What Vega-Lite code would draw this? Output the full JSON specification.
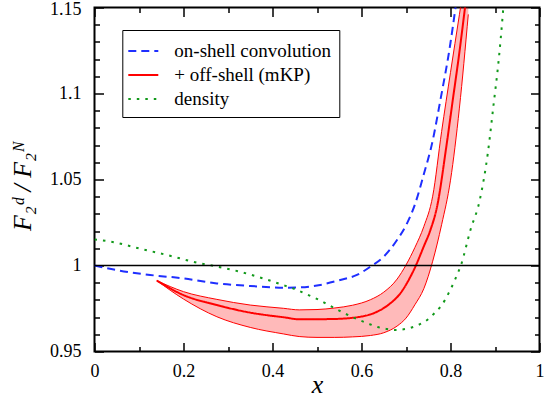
{
  "$schema": "https://vega.github.io/schema/vega-lite/v6.json",
  "width": 445,
  "height": 344,
  "autosize": "none",
  "padding": {"left": 94.5, "top": 7.5, "right": 5.5, "bottom": 47.5},
  "background": "white",
  "config": {
    "view": {"stroke": "black", "strokeWidth": 2},
    "font": "Liberation Serif",
    "axis": {"domain": false, "grid": false, "tickColor": "black", "labelColor": "black", "tickWidth": 1.5, "labelFlush": false, "labelOverlap": false, "labelFont": "Liberation Serif", "titleFont": "Liberation Serif", "titleColor": "black"},
    "legend": {"labelFont": "Liberation Serif"}
  },
  "datasets": {
    "curves": [
      {"s": "on-shell convolution", "x": 0, "y": 1.0},
      {"s": "on-shell convolution", "x": 0.05, "y": 0.9973},
      {"s": "on-shell convolution", "x": 0.125, "y": 0.9945},
      {"s": "on-shell convolution", "x": 0.2, "y": 0.9925},
      {"s": "on-shell convolution", "x": 0.275, "y": 0.9896},
      {"s": "on-shell convolution", "x": 0.35, "y": 0.9881},
      {"s": "on-shell convolution", "x": 0.425, "y": 0.9871},
      {"s": "on-shell convolution", "x": 0.4623, "y": 0.9873},
      {"s": "on-shell convolution", "x": 0.5073, "y": 0.9887},
      {"s": "on-shell convolution", "x": 0.5523, "y": 0.9916},
      {"s": "on-shell convolution", "x": 0.5898, "y": 0.9945},
      {"s": "on-shell convolution", "x": 0.6198, "y": 0.9993},
      {"s": "on-shell convolution", "x": 0.6498, "y": 1.0051},
      {"s": "on-shell convolution", "x": 0.6798, "y": 1.0148},
      {"s": "on-shell convolution", "x": 0.7023, "y": 1.0245},
      {"s": "on-shell convolution", "x": 0.721, "y": 1.0362},
      {"s": "on-shell convolution", "x": 0.74, "y": 1.053},
      {"s": "on-shell convolution", "x": 0.7586, "y": 1.071},
      {"s": "on-shell convolution", "x": 0.7773, "y": 1.0962},
      {"s": "on-shell convolution", "x": 0.7998, "y": 1.1292},
      {"s": "on-shell convolution", "x": 0.811, "y": 1.1495},
      {"s": "on-shell convolution", "x": 0.815, "y": 1.157},
      {"s": "+ off-shell (mKP)", "x": 0.14, "y": 0.9912},
      {"s": "+ off-shell (mKP)", "x": 0.2, "y": 0.9828},
      {"s": "+ off-shell (mKP)", "x": 0.275, "y": 0.977},
      {"s": "+ off-shell (mKP)", "x": 0.35, "y": 0.9726},
      {"s": "+ off-shell (mKP)", "x": 0.425, "y": 0.9699},
      {"s": "+ off-shell (mKP)", "x": 0.4623, "y": 0.9687},
      {"s": "+ off-shell (mKP)", "x": 0.5373, "y": 0.9689},
      {"s": "+ off-shell (mKP)", "x": 0.5973, "y": 0.9702},
      {"s": "+ off-shell (mKP)", "x": 0.6348, "y": 0.9731},
      {"s": "+ off-shell (mKP)", "x": 0.6648, "y": 0.978},
      {"s": "+ off-shell (mKP)", "x": 0.6873, "y": 0.9838},
      {"s": "+ off-shell (mKP)", "x": 0.7061, "y": 0.9916},
      {"s": "+ off-shell (mKP)", "x": 0.721, "y": 0.9993},
      {"s": "+ off-shell (mKP)", "x": 0.7398, "y": 1.011},
      {"s": "+ off-shell (mKP)", "x": 0.7548, "y": 1.0206},
      {"s": "+ off-shell (mKP)", "x": 0.7698, "y": 1.0342},
      {"s": "+ off-shell (mKP)", "x": 0.79, "y": 1.068},
      {"s": "+ off-shell (mKP)", "x": 0.805, "y": 1.096},
      {"s": "+ off-shell (mKP)", "x": 0.82, "y": 1.124},
      {"s": "+ off-shell (mKP)", "x": 0.834, "y": 1.153},
      {"s": "density", "x": 0, "y": 1.0151},
      {"s": "density", "x": 0.031, "y": 1.0141},
      {"s": "density", "x": 0.11, "y": 1.0093},
      {"s": "density", "x": 0.1676, "y": 1.0058},
      {"s": "density", "x": 0.226, "y": 1.0019},
      {"s": "density", "x": 0.2636, "y": 1.0},
      {"s": "density", "x": 0.322, "y": 0.9967},
      {"s": "density", "x": 0.38, "y": 0.9924},
      {"s": "density", "x": 0.4173, "y": 0.9892},
      {"s": "density", "x": 0.4548, "y": 0.9858},
      {"s": "density", "x": 0.4736, "y": 0.9836},
      {"s": "density", "x": 0.4923, "y": 0.9815},
      {"s": "density", "x": 0.5089, "y": 0.9795},
      {"s": "density", "x": 0.5275, "y": 0.9768},
      {"s": "density", "x": 0.5448, "y": 0.9745},
      {"s": "density", "x": 0.562, "y": 0.9722},
      {"s": "density", "x": 0.5808, "y": 0.9699},
      {"s": "density", "x": 0.5988, "y": 0.9679},
      {"s": "density", "x": 0.6176, "y": 0.966},
      {"s": "density", "x": 0.6363, "y": 0.9642},
      {"s": "density", "x": 0.6558, "y": 0.9631},
      {"s": "density", "x": 0.676, "y": 0.9625},
      {"s": "density", "x": 0.6948, "y": 0.9629},
      {"s": "density", "x": 0.7143, "y": 0.9641},
      {"s": "density", "x": 0.7323, "y": 0.966},
      {"s": "density", "x": 0.7496, "y": 0.9687},
      {"s": "density", "x": 0.7638, "y": 0.9722},
      {"s": "density", "x": 0.7773, "y": 0.976},
      {"s": "density", "x": 0.7885, "y": 0.9803},
      {"s": "density", "x": 0.7982, "y": 0.9852},
      {"s": "density", "x": 0.8072, "y": 0.99},
      {"s": "density", "x": 0.8147, "y": 0.9945},
      {"s": "density", "x": 0.8223, "y": 0.9993},
      {"s": "density", "x": 0.8448, "y": 1.0206},
      {"s": "density", "x": 0.8657, "y": 1.038},
      {"s": "density", "x": 0.8837, "y": 1.065},
      {"s": "density", "x": 0.897, "y": 1.094},
      {"s": "density", "x": 0.9085, "y": 1.12},
      {"s": "density", "x": 0.9175, "y": 1.146},
      {"s": "density", "x": 0.92, "y": 1.154}
    ],
    "band": [
      {"x": 0.14, "lo": 0.9912, "hi": 0.9912},
      {"x": 0.2, "lo": 0.9805, "hi": 0.9848},
      {"x": 0.275, "lo": 0.9702, "hi": 0.9803},
      {"x": 0.35, "lo": 0.964, "hi": 0.977},
      {"x": 0.425, "lo": 0.9602, "hi": 0.9751},
      {"x": 0.46, "lo": 0.9587, "hi": 0.9742},
      {"x": 0.5, "lo": 0.9582, "hi": 0.9744},
      {"x": 0.54, "lo": 0.9582, "hi": 0.9753},
      {"x": 0.58, "lo": 0.9585, "hi": 0.9769},
      {"x": 0.62, "lo": 0.9593, "hi": 0.9801},
      {"x": 0.65, "lo": 0.9609, "hi": 0.9845},
      {"x": 0.68, "lo": 0.9648, "hi": 0.9921},
      {"x": 0.7, "lo": 0.9694, "hi": 1.0003},
      {"x": 0.72, "lo": 0.9772, "hi": 1.0105},
      {"x": 0.74, "lo": 0.9865, "hi": 1.0226},
      {"x": 0.76, "lo": 1.0025, "hi": 1.0403},
      {"x": 0.78, "lo": 1.0237, "hi": 1.0778},
      {"x": 0.8, "lo": 1.0496, "hi": 1.1123},
      {"x": 0.82, "lo": 1.0915, "hi": 1.1458},
      {"x": 0.84, "lo": 1.146, "hi": 1.18}
    ],
    "ref": [{"y": 1}]
  },
  "layer": [
    {
      "data": {"name": "band"},
      "mark": {"type": "area", "clip": true, "fill": "#ff0000", "fillOpacity": 0.27, "interpolate": "monotone"},
      "encoding": {
        "x": {"field": "x", "type": "quantitative", "scale": {"domain": [0, 1], "nice": false, "zero": false},
          "axis": {"orient": "bottom", "values": [0, 0.1, 0.2, 0.3, 0.4, 0.5, 0.6, 0.7, 0.8, 0.9, 1], "format": "~g",
            "labelExpr": "abs(datum.value*5 - round(datum.value*5)) < 0.001 ? datum.label : ''",
            "tickSize": {"condition": {"test": "abs(datum.value*5 - round(datum.value*5)) < 0.001", "value": -9}, "value": -5},
            "labelFontSize": 18, "labelPadding": 20,
            "title": "x", "titleFontStyle": "italic", "titleFontSize": 26, "titleFontWeight": "normal", "titleBaseline": "alphabetic", "titleY": 41}},
        "y": {"field": "lo", "type": "quantitative", "scale": {"domain": [0.95, 1.15], "nice": false, "zero": false},
          "axis": {"orient": "left", "values": [0.95, 0.96, 0.97, 0.98, 0.99, 1, 1.01, 1.02, 1.03, 1.04, 1.05, 1.06, 1.07, 1.08, 1.09, 1.1, 1.11, 1.12, 1.13, 1.14, 1.15], "format": "~g",
            "labelExpr": "abs(datum.value*20 - round(datum.value*20)) < 0.001 ? datum.label : ''",
            "tickSize": {"condition": {"test": "abs(datum.value*20 - round(datum.value*20)) < 0.001", "value": -9}, "value": -5},
            "labelOffset": {"condition": {"test": "datum.value > 1.145", "value": 1.5}, "value": 0},
            "labelFontSize": 18, "labelPadding": 22.5,
            "title": "F₂ᵈ / F₂ᴺ", "titleFontStyle": "italic", "titleFontSize": 26, "titleFontWeight": "normal", "titleBaseline": "alphabetic", "titleAngle": -90, "titleX": -64.5, "titleY": 178}},
        "y2": {"field": "hi"}
      }
    },
    {
      "data": {"name": "band"},
      "mark": {"type": "line", "clip": true, "color": "#ff0000", "strokeWidth": 1, "interpolate": "monotone"},
      "encoding": {
        "x": {"field": "x", "type": "quantitative", "axis": null},
        "y": {"field": "hi", "type": "quantitative", "axis": null}
      }
    },
    {
      "data": {"name": "band"},
      "mark": {"type": "line", "clip": true, "color": "#ff0000", "strokeWidth": 1, "interpolate": "monotone"},
      "encoding": {
        "x": {"field": "x", "type": "quantitative", "axis": null},
        "y": {"field": "lo", "type": "quantitative", "axis": null}
      }
    },
    {
      "data": {"name": "curves"},
      "mark": {"type": "line", "clip": true, "strokeWidth": 2, "interpolate": "monotone"},
      "encoding": {
        "x": {"field": "x", "type": "quantitative", "axis": null},
        "y": {"field": "y", "type": "quantitative", "axis": null},
        "color": {"field": "s", "type": "nominal",
          "scale": {"domain": ["on-shell convolution", "+ off-shell (mKP)", "density"], "range": ["#1f2fff", "#ff0000", "#11991a"]},
          "legend": {"orient": "none", "legendX": 27.8, "legendY": 22.5, "title": null, "symbolType": "M-1.2,0H1.2", "symbolSize": 625, "symbolStrokeWidth": 2,
            "labelFontSize": 19, "labelFont": "Liberation Serif", "labelColor": "black", "labelLimit": 400, "labelOffset": 17.5,
            "fillColor": "white", "strokeColor": "black", "padding": 7.5, "rowPadding": 0}},
        "strokeDash": {"field": "s", "type": "nominal",
          "scale": {"domain": ["on-shell convolution", "+ off-shell (mKP)", "density"], "range": [[8, 5], [1, 0], [2.5, 6]]},
          "legend": {"orient": "none", "legendX": 27.8, "legendY": 22.5, "title": null, "symbolType": "M-1.2,0H1.2", "symbolSize": 625, "symbolStrokeWidth": 2,
            "labelFontSize": 19, "labelFont": "Liberation Serif", "labelColor": "black", "labelLimit": 400, "labelOffset": 17.5,
            "fillColor": "white", "strokeColor": "black", "padding": 7.5, "rowPadding": 0}}
      }
    },
    {
      "data": {"name": "ref"},
      "mark": {"type": "rule", "color": "black", "strokeWidth": 1.5},
      "encoding": {
        "y": {"field": "y", "type": "quantitative",
          "axis": {"orient": "right", "values": [0.95, 0.96, 0.97, 0.98, 0.99, 1, 1.01, 1.02, 1.03, 1.04, 1.05, 1.06, 1.07, 1.08, 1.09, 1.1, 1.11, 1.12, 1.13, 1.14, 1.15],
            "labels": false, "title": null,
            "tickSize": {"condition": {"test": "abs(datum.value*20 - round(datum.value*20)) < 0.001", "value": -9}, "value": -5}}}
      }
    },
    {
      "data": {"name": "ref"},
      "mark": {"type": "point", "opacity": 0},
      "encoding": {
        "x": {"datum": 0.5, "type": "quantitative",
          "axis": {"orient": "top", "values": [0, 0.1, 0.2, 0.3, 0.4, 0.5, 0.6, 0.7, 0.8, 0.9, 1],
            "labels": false, "title": null,
            "tickSize": {"condition": {"test": "abs(datum.value*5 - round(datum.value*5)) < 0.001", "value": -9}, "value": -5}}},
        "y": {"datum": 1, "type": "quantitative", "axis": null}
      }
    }
  ],
  "resolve": {"axis": {"x": "independent", "y": "independent"}}
}
